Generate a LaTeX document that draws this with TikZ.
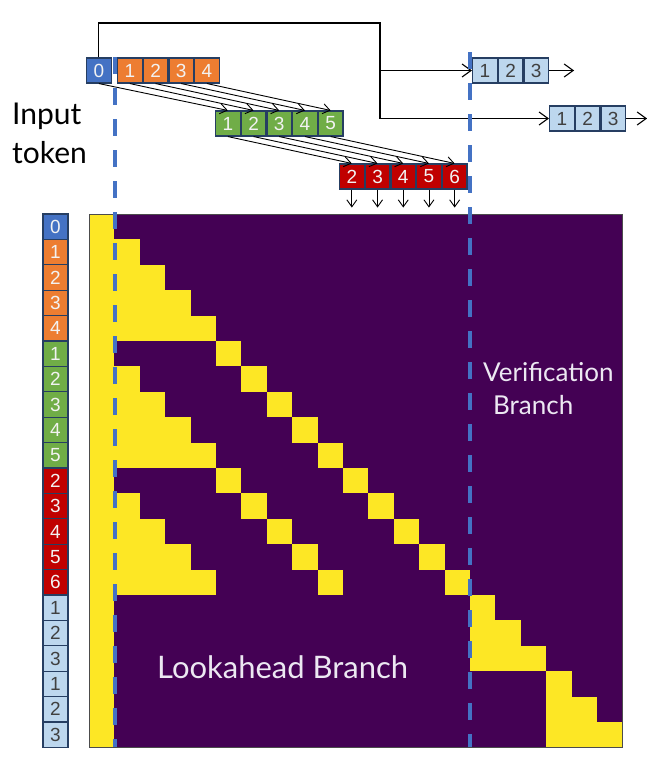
\documentclass[tikz,border=0pt]{standalone}
\usepackage{fontspec}
\setmainfont{Lato}
\newfontfamily\digitfont{Liberation Sans}
\usetikzlibrary{positioning,arrows.meta}
\definecolor{tokblue}{RGB}{68,114,196}
\definecolor{tokorange}{RGB}{237,125,49}
\definecolor{tokgreen}{RGB}{112,173,71}
\definecolor{tokred}{RGB}{192,0,0}
\definecolor{toklight}{RGB}{189,215,238}
\definecolor{tokedge}{RGB}{38,62,98}
\definecolor{maskoff}{RGB}{68,1,84}
\definecolor{maskon}{RGB}{253,231,37}
\definecolor{branchtext}{RGB}{236,232,242}
\def\mx{89}
\def\my{214}
\def\cs{25.4}
\begin{document}
\begin{tikzpicture}[x=1pt,y=-1pt,
    tok/.style={draw=tokedge,line width=1.1pt,minimum width=24.6pt,minimum height=25pt,inner sep=0pt,
        font=\digitfont\fontsize{19}{19}\selectfont,text=white!95!black},
    btok/.style={tok,fill=tokblue},
    otok/.style={tok,fill=tokorange},
    gtok/.style={tok,fill=tokgreen},
    rtok/.style={tok,fill=tokred},
    ltok/.style={tok,fill=toklight,text=black!75},
    lcol/.style={minimum width=25pt,minimum height=\cs pt},
    branch/.style={inner sep=0pt,text=branchtext},
    dashline/.style={tokblue,line width=3.5pt,dash pattern=on 17pt off 14pt},
    small arrow/.style={-{Straight Barb[length=7pt,width=10pt]},line width=0.9pt},
    big arrow/.style={-{Straight Barb[length=9pt,width=13pt]},line width=1.1pt}]
    \useasboundingbox (0,0) rectangle (646,758);
    %% attention mask
    \fill[maskoff] (\mx,\my) rectangle ++({21*\cs},{21*\cs});
    \fill[maskon] (\mx,\my) rectangle ++(\cs,{21*\cs});
    \foreach \r in {1,...,14}
        \fill[maskon] ({\mx+\r*\cs},{\my+\r*\cs}) rectangle ++(\cs,\cs);
    \foreach \b in {0,5,10}
        \foreach \k in {1,...,4}
            \fill[maskon] ({\mx+\cs},{\my+(\b+\k)*\cs}) rectangle ++({\k*\cs},\cs);
    \foreach \k in {0,...,4}
        \fill[maskon] ({\mx+(5+\k)*\cs},{\my+(10+\k)*\cs}) rectangle ++(\cs,\cs);
    \foreach \b in {15,18}
        \foreach \k in {0,1,2}
            \fill[maskon] ({\mx+\b*\cs},{\my+(\b+\k)*\cs}) rectangle ++({(\k+1)*\cs},\cs);
    \draw[black!70,line width=0.8pt] (\mx,\my) rectangle ++({21*\cs},{21*\cs});
    %% row labels
    \foreach \lab/\sty [count=\i from 0] in {0/btok,1/otok,2/otok,3/otok,4/otok,1/gtok,2/gtok,3/gtok,4/gtok,5/gtok,
            2/rtok,3/rtok,4/rtok,5/rtok,6/rtok,1/ltok,2/ltok,3/ltok,1/ltok,2/ltok,3/ltok}
        \node[\sty,lcol] (l\i) at (55.5,{\my+\cs/2+\i*\cs}) {\lab};
    %% input tokens
    \node[btok,anchor=west] (t0) at (86,70.5) {0};
    \node[otok,anchor=west] (o1) at (117,70.5) {1};
    \foreach \i [remember=\i as \j (initially 1)] in {2,3,4}
        \node[otok,right=0pt of o\j] (o\i) {\i};
    \node[gtok,anchor=west] (g1) at (215,123.5) {1};
    \foreach \i [remember=\i as \j (initially 1)] in {2,...,5}
        \node[gtok,right=0pt of g\j] (g\i) {\i};
    \node[rtok,anchor=west] (r2) at (339,176.5) {2};
    \foreach \i [remember=\i as \j (initially 2)] in {3,...,6}
        \node[rtok,right=0pt of r\j] (r\i) {\i};
    %% verification tokens
    \node[ltok,anchor=west] (va1) at (472,70.5) {1};
    \node[ltok,right=0pt of va1] (va2) {2};
    \node[ltok,right=0pt of va2] (va3) {3};
    \node[ltok,anchor=west] (vb1) at (549,118.5) {1};
    \node[ltok,right=0pt of vb1] (vb2) {2};
    \node[ltok,right=0pt of vb2] (vb3) {3};
    %% lookahead arrows
    \foreach \s/\t in {t0/g1,o1/g2,o2/g3,o3/g4,o4/g5}
        \draw[small arrow] (\s.south) -- (\t.north);
    \foreach \s/\t in {g1/r2,g2/r3,g3/r4,g4/r5,g5/r6}
        \draw[small arrow] (\s.south) -- (\t.north);
    \foreach \t in {r2,r3,r4,r5,r6}
        \draw[small arrow] (\t.south) -- ++(0,18);
    %% verification arrows
    \coordinate (split) at (380,23);
    \draw[big arrow] (t0.north) |- (split) |- (vb1.west);
    \draw[big arrow] (split |- va1.west) -- (va1.west);
    \coordinate[right=25pt of va3] (vaend);
    \coordinate[right=21pt of vb3] (vbend);
    \draw[big arrow] (va3.east) -- (vaend);
    \draw[big arrow] (vb3.east) -- (vbend);
    %% branch borders
    \draw[dashline] (115,57) -- (115,{\my+21*\cs});
    \draw[dashline] (470,52) -- (470,{\my+21*\cs});
    %% labels
    \node[inner sep=0pt,anchor=north west,align=left,font=\fontsize{30}{39}\selectfont] (intok) at (12,103) {Input\\token};
    \node[branch,anchor=north west,align=left,font=\fontsize{26}{33}\selectfont] (verlab) at (483,362) {Verification\\\hspace*{10pt}Branch};
    \node[branch,anchor=base west,font=\fontsize{31}{31}\selectfont] (looklab) at (157,678) {Lookahead Branch};
\end{tikzpicture}
\end{document}
